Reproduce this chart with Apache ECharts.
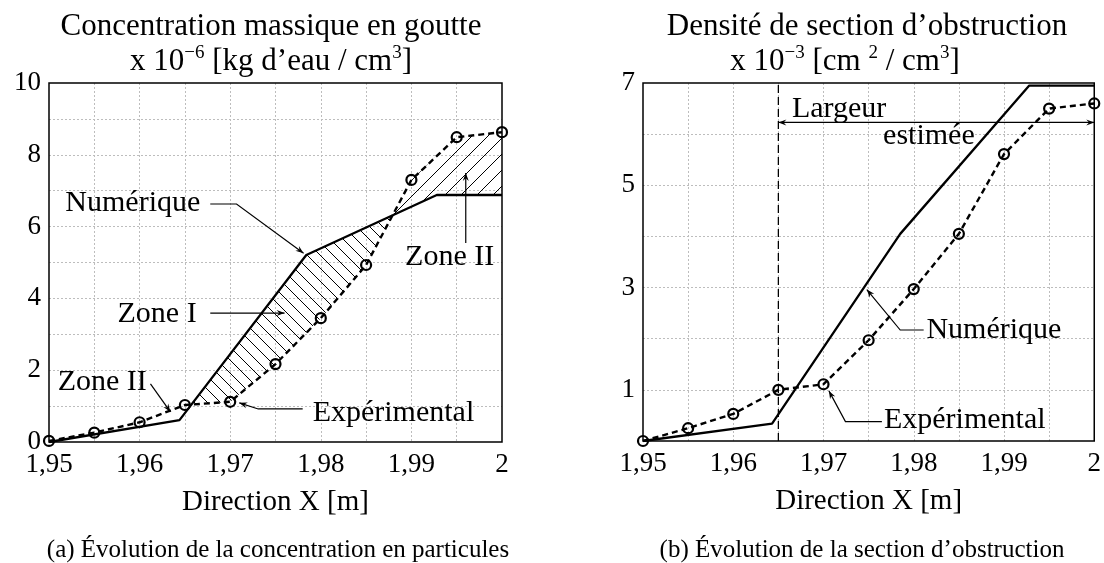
<!DOCTYPE html>
<html>
<head>
<meta charset="utf-8">
<script src="https://cdn.jsdelivr.net/npm/echarts@6/dist/echarts.min.js"></script>
<style>
  html, body { margin: 0; padding: 0; background: #fff; }
  #chart { width: 1104px; height: 563px; }
</style>
</head>
<body>
<div id="chart"></div>
<script>
// (a) concentration massique, x 10^-6 kg/cm3
const xConc = [1.95, 1.955, 1.96, 1.965, 1.97, 1.975, 1.98, 1.985, 1.99, 1.995, 2.0];
const concExp = [0.03, 0.26, 0.55, 1.03, 1.12, 2.17, 3.45, 4.93, 7.30, 8.49, 8.63];
const concNumX = [1.95, 1.9644, 1.9784, 1.9928, 2.0];
const concNum = [0, 0.61, 5.21, 6.88, 6.88];

// (b) densite de section, x 10^-3 cm2/cm3
const xSect = [1.95, 1.955, 1.96, 1.965, 1.97, 1.975, 1.98, 1.985, 1.99, 1.995, 2.0];
const sectExp = [0.0, 0.25, 0.53, 1.0, 1.11, 1.97, 2.97, 4.05, 5.61, 6.50, 6.60];
const sectNumX = [1.95, 1.9643, 1.9785, 1.9928, 2.0];
const sectNum = [0, 0.34, 4.05, 6.95, 6.95];

const largeurX = [1.965, 2.0];   // largeur estimee
const largeurY = 6.23;

const FONT = '"Liberation Serif", "DejaVu Serif", serif';

const zip = (xs, ys) => xs.map((x, i) => [x, ys[i]]);

function interp(xs, ys, x) {
  for (let i = 1; i < xs.length; i++) {
    if (x <= xs[i] + 1e-12) {
      const t = (x - xs[i - 1]) / (xs[i] - xs[i - 1]);
      return ys[i - 1] + t * (ys[i] - ys[i - 1]);
    }
  }
  return ys[ys.length - 1];
}

// regions between two polylines where sign*(A-B) >= 0, inside [from, to]
function zones(xA, yA, xB, yB, from, to, sign) {
  const bx = [...new Set([...xA, ...xB, from, to])]
    .filter(x => x >= from && x <= to).sort((a, b) => a - b);
  const diff = x => (interp(xA, yA, x) - interp(xB, yB, x)) * sign;
  const pts = [];
  bx.forEach((x, i) => {
    if (i > 0) {
      const xp = bx[i - 1], dp = diff(xp), d = diff(x);
      if (dp * d < 0) pts.push(xp + (x - xp) * dp / (dp - d));
    }
    pts.push(x);
  });
  const polys = [];
  let cur = [];
  pts.forEach(x => {
    if (diff(x) >= -1e-9) cur.push(x);
    else { if (cur.length > 1) polys.push(cur); cur = []; }
  });
  if (cur.length > 1) polys.push(cur);
  return polys.map(run => run.map(x => [x, interp(xA, yA, x)])
    .concat(run.slice().reverse().map(x => [x, interp(xB, yB, x)])));
}

function hatch(size, back) {
  const c = document.createElement('canvas');
  c.width = size; c.height = size;
  const g = c.getContext('2d');
  g.strokeStyle = '#000';
  g.lineWidth = 1;
  g.beginPath();
  for (let k = -1; k <= 1; k++) {
    if (back) { g.moveTo(k * size, 0); g.lineTo(k * size + size, size); }
    else { g.moveTo(k * size, size); g.lineTo(k * size + size, 0); }
  }
  g.stroke();
  return { image: c, repeat: 'repeat' };
}

const zoneI = zones(concNumX, concNum, xConc, concExp, 1.965, 1.995, 1);
const zoneII = zones(concNumX, concNum, xConc, concExp, 1.985, 2.0, -1);

function hatchSeries(polys, pattern) {
  return {
    type: 'custom',
    coordinateSystem: 'cartesian2d',
    xAxisIndex: 0, yAxisIndex: 0,
    silent: true, z: 1, clip: true,
    data: polys.map(p => p[0]),
    renderItem: (params, api) => ({
      type: 'polygon',
      shape: { points: polys[params.dataIndex].map(p => api.coord(p)) },
      style: { fill: pattern, stroke: null }
    })
  };
}

const fmtX = v => {
  const r = Math.round(v * 1000);
  if (r % 10 !== 0) return '';
  return (r / 1000).toFixed(2).replace(/0+$/, '').replace(/\.$/, '').replace('.', ',');
};

function xAxis(idx) {
  return {
    type: 'value', gridIndex: idx, min: 1.95, max: 2.0, interval: 0.005,
    name: 'Direction X [m]', nameLocation: 'middle', nameGap: 46,
    nameTextStyle: { fontFamily: FONT, fontSize: 29, color: '#000' },
    axisLine: { show: false }, axisTick: { show: false },
    axisLabel: { formatter: fmtX, fontFamily: FONT, fontSize: 27, color: '#000', margin: 9, showMinLabel: true, showMaxLabel: true },
    splitLine: { show: true, showMinLine: false, showMaxLine: false, lineStyle: { color: '#bdbdbd', type: [2, 2], width: 1 } }
  };
}
function yAxis(idx, max, keep) {
  return {
    type: 'value', gridIndex: idx, min: 0, max: max, interval: 1,
    axisLine: { show: false }, axisTick: { show: false },
    axisLabel: { formatter: v => (keep(v) ? String(v) : ''), fontFamily: FONT, fontSize: 27, color: '#000', margin: 8 },
    splitLine: { show: true, showMinLine: false, showMaxLine: false, lineStyle: { color: '#bdbdbd', type: [2, 2], width: 1 } }
  };
}

const numStyle = { color: '#000', width: 2.3, type: 'solid' };
const expSeries = (idx, data) => ({
  type: 'line', xAxisIndex: idx, yAxisIndex: idx, data: data, z: 3,
  symbol: 'circle', symbolSize: 10, showAllSymbol: true,
  lineStyle: { color: '#000', width: 2.4, type: [6, 4] },
  itemStyle: { color: 'rgba(0,0,0,0)', borderColor: '#000', borderWidth: 2.2 }
});

const chart = echarts.init(document.getElementById('chart'), null, { renderer: 'canvas' });

chart.setOption({
  animation: false,
  backgroundColor: '#fff',
  grid: [
    { left: 49, top: 83, width: 453, height: 359, show: true, borderColor: '#000', borderWidth: 1.5, backgroundColor: 'transparent', z: 5 },
    { left: 643, top: 83, width: 454, height: 358, show: true, borderColor: '#000', borderWidth: 1.5, backgroundColor: 'transparent', z: 5 }
  ],
  xAxis: [xAxis(0), xAxis(1)],
  yAxis: [yAxis(0, 10, v => v % 2 === 0), yAxis(1, 7, v => v % 2 === 1)],
  series: [
    hatchSeries(zoneI, hatch(13, true)),
    hatchSeries(zoneII, hatch(16, false)),
    { type: 'line', xAxisIndex: 0, yAxisIndex: 0, data: zip(concNumX, concNum), symbol: 'none', lineStyle: numStyle, z: 3 },
    expSeries(0, zip(xConc, concExp)),
    // dashed vertical at the start of the estimated width
    { type: 'line', xAxisIndex: 1, yAxisIndex: 1, data: [[largeurX[0], 0], [largeurX[0], 7]], symbol: 'none', silent: true, z: 2,
      lineStyle: { color: '#000', width: 1.3, type: [8, 4] } },
    { type: 'line', xAxisIndex: 1, yAxisIndex: 1, data: zip(sectNumX, sectNum), symbol: 'none', lineStyle: numStyle, z: 3 },
    expSeries(1, zip(xSect, sectExp))
  ]
});

// annotations (positions in data units of each grid)
const notes = [
  { g: 0, text: 'Numérique', align: 'right', at: [1.9667, 6.66], path: [[1.9678, 6.63], [1.9707, 6.63], [1.9781, 5.26]] },
  { g: 0, text: 'Zone I', align: 'right', at: [1.9663, 3.55], path: [[1.9678, 3.59], [1.9760, 3.59]] },
  { g: 0, text: 'Zone II', align: 'right', at: [1.9608, 1.67], path: [[1.9612, 1.62], [1.9634, 0.84]] },
  { g: 0, text: 'Expérimental', align: 'left', at: [1.9791, 0.81], path: [[1.9780, 0.92], [1.9731, 0.92], [1.9710, 1.09]] },
  { g: 0, text: 'Zone II', align: 'left', at: [1.9893, 5.15], path: [[1.9960, 5.54], [1.9960, 7.49]] },
  { g: 1, text: 'Numérique', align: 'left', at: [1.9814, 2.17], path: [[1.9811, 2.17], [1.9785, 2.17], [1.9748, 2.96]] },
  { g: 1, text: 'Expérimental', align: 'left', at: [1.9767, 0.40], path: [[1.97647, 0.38], [1.97243, 0.38], [1.9706, 0.98]] },
  { g: 1, text: 'Largeur', align: 'left', at: [1.9665, 6.48] },
  { g: 1, text: 'estimée', align: 'left', at: [1.9766, 5.97] }
];

function head(p, q) {
  const dx = q[0] - p[0], dy = q[1] - p[1], L = Math.hypot(dx, dy) || 1;
  const ux = dx / L, uy = dy / L, len = 8, w = 3;
  const bx = q[0] - ux * len, by = q[1] - uy * len;
  return {
    type: 'polygon', z: 20, silent: true,
    shape: { points: [q, [bx - uy * w, by + ux * w], [q[0] - ux * len * 0.65, q[1] - uy * len * 0.65], [bx + uy * w, by - ux * w]] },
    style: { fill: '#000' }
  };
}

const px = (g, p) => chart.convertToPixel({ gridIndex: g }, p);
const gfx = [];
notes.forEach(n => {
  const a = px(n.g, n.at);
  gfx.push({ type: 'text', x: a[0], y: a[1], z: 20, silent: true,
    style: { text: n.text, font: '30px ' + FONT, fill: '#000', align: n.align, verticalAlign: 'middle' } });
  if (n.path) {
    const pts = n.path.map(p => px(n.g, p));
    gfx.push({ type: 'polyline', z: 20, silent: true, shape: { points: pts }, style: { stroke: '#000', lineWidth: 1.2, fill: null } });
    gfx.push(head(pts[pts.length - 2], pts[pts.length - 1]));
  }
});
// double arrow "largeur estimee"
const la = px(1, [largeurX[0], largeurY]), lb = px(1, [largeurX[1], largeurY]);
gfx.push({ type: 'line', z: 20, silent: true, shape: { x1: la[0], y1: la[1], x2: lb[0], y2: lb[1] }, style: { stroke: '#000', lineWidth: 1.3 } });
gfx.push(head(lb, la), head(la, lb));

// titles and captions
const sup = { fontSize: 19, fontFamily: FONT, verticalAlign: 'top', lineHeight: 20 };
const base = { fontSize: 31, fontFamily: FONT, lineHeight: 36 };
const titles = [
  { x: 271, y: 27, text: 'Concentration massique en goutte' },
  { x: 271, y: 62, text: '{b|x 10}{s|−6}{b| [kg d’eau / cm}{s|3}{b|]}' },
  { x: 867, y: 27, text: 'Densité de section d’obstruction' },
  { x: 845, y: 62, text: '{b|x 10}{s|−3}{b| [cm }{s|2}{b| / cm}{s|3}{b|]}' },
  { x: 278, y: 550, text: '(a) Évolution de la concentration en particules', size: 25 },
  { x: 862, y: 550, text: '(b) Évolution de la section d’obstruction', size: 25 }
];
titles.forEach(t => {
  gfx.push({ type: 'text', x: t.x, y: t.y, silent: true,
    style: { text: t.text, font: (t.size || 31) + 'px ' + FONT, fill: '#000', align: 'center', verticalAlign: 'middle',
      rich: { b: base, s: sup } } });
});

chart.setOption({ graphic: gfx });
</script>
</body>
</html>
